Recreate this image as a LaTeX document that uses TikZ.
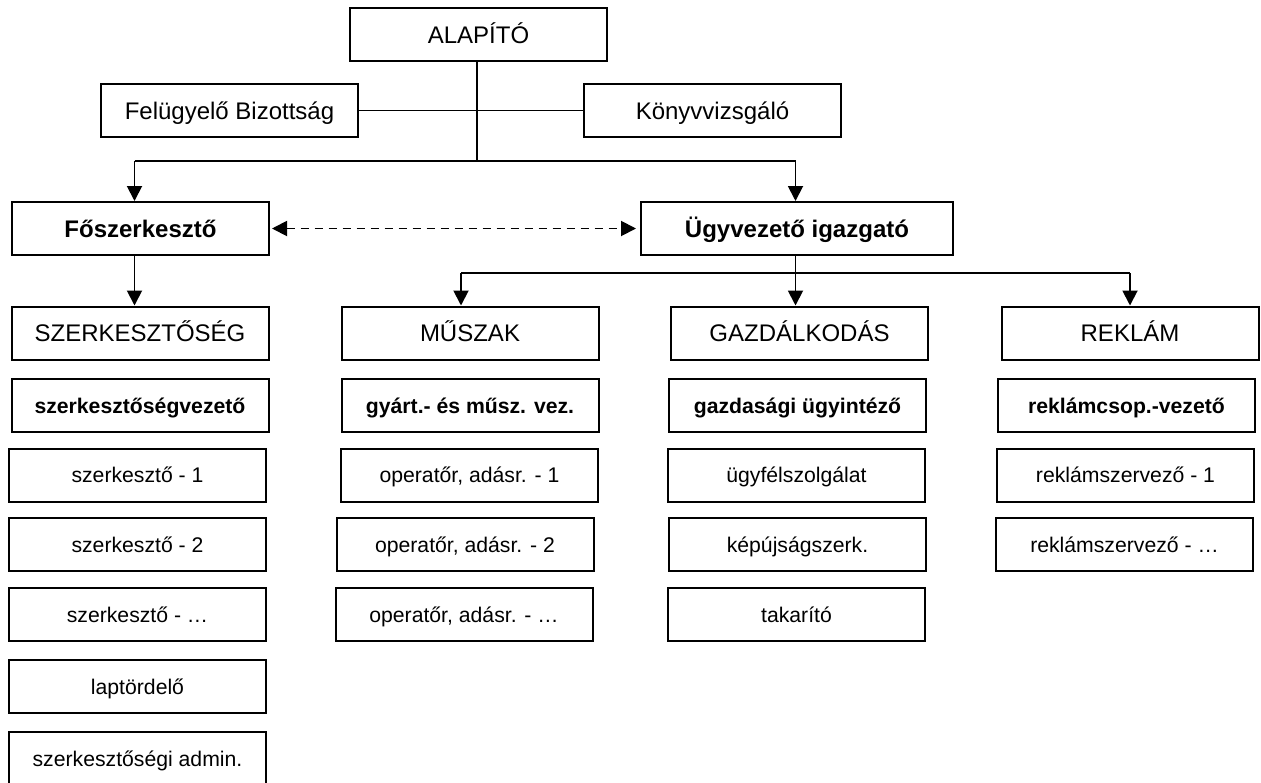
\documentclass[tikz,border=0pt]{standalone}
\usepackage{fontspec}
\setmainfont{Liberation Sans}
\usetikzlibrary{arrows.meta,calc}
\begin{document}
\begin{tikzpicture}[x=1pt,y=-1pt,
  bx/.style={draw, line width=2pt, minimum height=53pt, inner sep=0pt, anchor=center},
  wbox/.style={bx, minimum width=257pt},
  big/.style={font=\fontsize{24}{28}\selectfont, text height=22pt, text depth=5pt},
  bigb/.style={font=\fontsize{24}{28}\selectfont\bfseries, text height=22pt, text depth=5pt},
  small/.style={font=\fontsize{21.2}{26}\selectfont, text height=20pt, text depth=4.6pt},
  smallb/.style={font=\fontsize{21.2}{26}\selectfont\bfseries, text height=20pt, text depth=4.6pt},
  conn/.style={line width=1.9pt},
  arr/.style={conn, -{Triangle[length=15pt,width=15pt]}},
  darr/.style={conn, dash pattern=on 8pt off 6pt, {Triangle[length=15pt,width=15pt]}-{Triangle[length=15pt,width=15pt]}}
]
\clip (0,0) rectangle (1261,782);
\fill[white] (0,0) rectangle (1261,782);

% top level
\node[wbox,big] (alap) at (478.5,34.5) {ALAPÍTÓ};
\node[wbox,big] (felu) at (229.5,110.5) {Felügyelő Bizottság};
\node[wbox,big] (konyv) at (712.5,110.5) {Könyvvizsgáló};
\node[wbox,bigb] (fosz) at (140.5,228.5) {Főszerkesztő};
\node[bx,bigb,minimum width=312pt] (ugyv) at (797,228.5) {Ügyvezető igazgató};

% departments
\node[wbox,big] (szerk) at (140,333) {SZERKESZTŐSÉG};
\node[wbox,big] (musz) at (470,333) {MŰSZAK};
\node[wbox,big] (gazd) at (799.5,333) {GAZDÁLKODÁS};
\node[wbox,big] (rekl) at (1130,333) {REKLÁM};

% heads
\node[wbox,smallb] (vez) at (140,405.5) {szerkesztőségvezető};
\node[wbox,smallb] (gyart) at (470,405.5) {gyárt.- és műsz. vez.};
\node[wbox,smallb] (gazdu) at (797.5,405.5) {gazdasági ügyintéző};
\node[wbox,smallb] (reklcs) at (1126.5,405.5) {reklámcsop.-vezető};

% staff
\node[wbox,small] (s1) at (137.5,475) {szerkesztő - 1};
\node[wbox,small] (s2) at (137.5,544.5) {szerkesztő - 2};
\node[wbox,small] (s3) at (137.5,614.5) {szerkesztő - …};
\node[wbox,small] (lap) at (137.5,686.5) {laptördelő};
\node[wbox,small] (adm) at (137.5,758.5) {szerkesztőségi admin.};

\node[wbox,small] (op1) at (469.5,475) {operatőr, adásr. - 1};
\node[wbox,small] (op2) at (465,544.5) {operatőr, adásr. - 2};
\node[wbox,small] (op3) at (464,614.5) {operatőr, adásr. - …};

\node[wbox,small] (ugyf) at (796.5,475) {ügyfélszolgálat};
\node[wbox,small] (kepu) at (797.5,544.5) {képújságszerk.};
\node[wbox,small] (tak) at (796.5,614.5) {takarító};

\node[wbox,small] (rsz1) at (1125.5,475) {reklámszervező - 1};
\node[wbox,small] (rszx) at (1124.5,544.5) {reklámszervező - …};

% connectors
\coordinate (v0) at (477,61);
\coordinate (b1) at (477,161);
\coordinate (bl) at (134.5,161);
\coordinate (br) at (795.5,161);
\draw[conn] (v0) -- (b1);
\draw[conn] (felu.east) -- (konyv.west);
\draw[conn] (bl) -- (br);
\draw[arr] (bl) -- (bl |- fosz.north);
\draw[arr] (br) -- (br |- ugyv.north);
\coordinate (dl) at ($(fosz.east)+(2,0)$);
\coordinate (dr) at ($(ugyv.west)+(-4,0)$);
\draw[darr] (dl) -- (dr);

\coordinate (fsd) at (134.5,255);
\draw[arr] (fsd) -- (fsd |- szerk.north);

\coordinate (u0) at (795.5,255);
\coordinate (m0) at (795.5,273);
\coordinate (m1) at (461,273);
\coordinate (m2) at (1130,273);
\draw[conn] (u0) -- (m0);
\draw[conn] (m1) -- (m2);
\draw[arr] (m1) -- (m1 |- musz.north);
\draw[arr] (m0) -- (m0 |- gazd.north);
\draw[arr] (m2) -- (m2 |- rekl.north);
\end{tikzpicture}
\end{document}
